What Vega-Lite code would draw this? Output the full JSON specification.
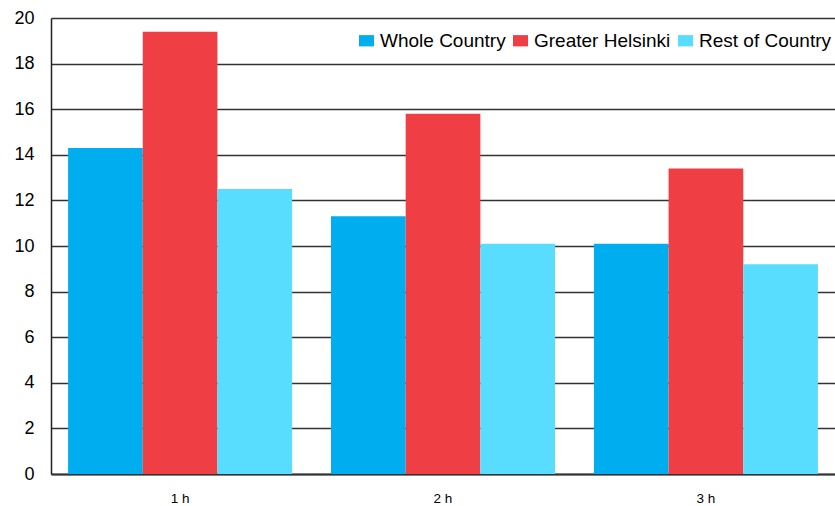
{
  "$schema": "https://vega.github.io/schema/vega-lite/v6.json",
  "width": 784,
  "height": 456,
  "autosize": {"type": "none"},
  "padding": {"left": 51, "top": 18, "right": 0, "bottom": 32},
  "background": "white",
  "config": {
    "view": {"stroke": null},
    "font": "Liberation Sans"
  },
  "data": {
    "values": [
      {"hour": "1 h", "region": "Whole Country", "value": 14.3},
      {"hour": "1 h", "region": "Greater Helsinki", "value": 19.4},
      {"hour": "1 h", "region": "Rest of Country", "value": 12.5},
      {"hour": "2 h", "region": "Whole Country", "value": 11.3},
      {"hour": "2 h", "region": "Greater Helsinki", "value": 15.8},
      {"hour": "2 h", "region": "Rest of Country", "value": 10.1},
      {"hour": "3 h", "region": "Whole Country", "value": 10.1},
      {"hour": "3 h", "region": "Greater Helsinki", "value": 13.4},
      {"hour": "3 h", "region": "Rest of Country", "value": 9.2}
    ]
  },
  "mark": {"type": "bar"},
  "encoding": {
    "x": {
      "field": "hour",
      "type": "nominal",
      "scale": {"paddingInner": 0.148, "paddingOuter": 0.065},
      "axis": {
        "title": null,
        "labelAngle": 0,
        "ticks": false,
        "labelPadding": 17,
        "labelFontSize": 13.5,
        "labelColor": "#000",
        "domainColor": "#333",
        "domainWidth": 2
      }
    },
    "xOffset": {
      "field": "region",
      "type": "nominal",
      "sort": ["Whole Country", "Greater Helsinki", "Rest of Country"],
      "scale": {"paddingInner": 0, "paddingOuter": 0}
    },
    "y": {
      "field": "value",
      "type": "quantitative",
      "scale": {"domain": [0, 20], "nice": false},
      "axis": {
        "title": null,
        "values": [0, 2, 4, 6, 8, 10, 12, 14, 16, 18, 20],
        "ticks": false,
        "labelPadding": 17,
        "labelFontSize": 18,
        "labelColor": "#000",
        "domainColor": "#222",
        "domainWidth": 1.5,
        "grid": true,
        "gridColor": "#333",
        "gridWidth": 1.6
      }
    },
    "color": {
      "field": "region",
      "type": "nominal",
      "sort": ["Whole Country", "Greater Helsinki", "Rest of Country"],
      "scale": {
        "domain": ["Whole Country", "Greater Helsinki", "Rest of Country"],
        "range": ["#00adef", "#ef3e44", "#58dcff"]
      },
      "legend": {
        "title": null,
        "orient": "none",
        "direction": "horizontal",
        "legendX": 306,
        "legendY": 13,
        "symbolType": "M-1,-0.75H1V0.75H-1Z",
        "symbolSize": 225,
        "symbolStrokeWidth": 0,
        "labelFontSize": 19,
        "labelColor": "#000",
        "labelOffset": 4,
        "columnPadding": 5,
        "padding": 0
      }
    }
  }
}
